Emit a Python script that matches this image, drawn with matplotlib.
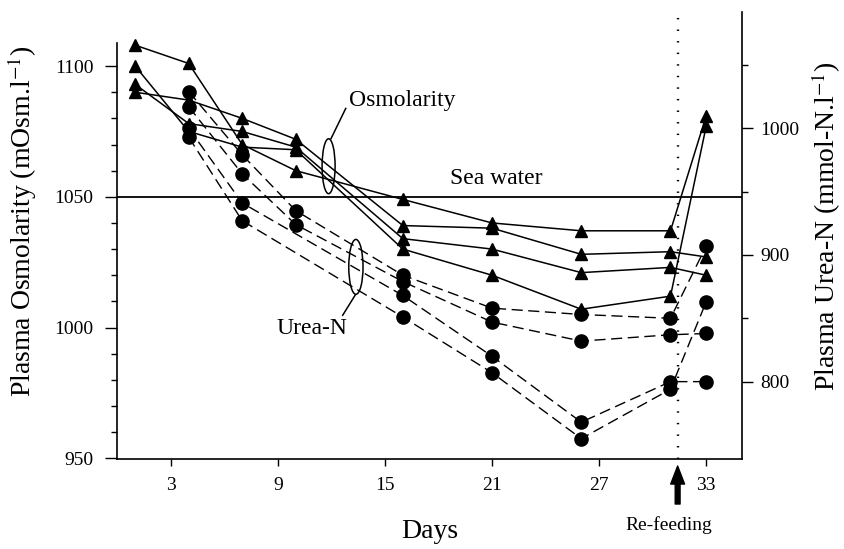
import numpy as np
import matplotlib
matplotlib.use("Agg")
import matplotlib.pyplot as plt
from matplotlib.patches import Ellipse
from matplotlib.ticker import MultipleLocator, FixedLocator

plt.rcParams['font.family'] = ['Liberation Serif', 'DejaVu Serif']
plt.rcParams['mathtext.fontset'] = 'stix'

# Osmolarity (left axis, triangles, solid lines)
osm_days = [1, 4, 7, 10, 16, 21, 26, 31, 33]
osm_a = [1108, 1101, 1070, 1060, 1049, 1040, 1037, 1037, 1081]
osm_b = [1090, 1087, 1080, 1072, 1039, 1038, 1028, 1029, 1027]
osm_c = [1093, 1078, 1075, 1069, 1034, 1030, 1021, 1023, 1020]
osm_d = [1100, 1075, 1069, 1068, 1030, 1020, 1007, 1012, 1077]

# Urea-N (right axis, circles, dashed lines)
urea_days_ab = [4, 7, 10, 16, 21, 26, 31, 33]
urea_a = [1029, 979, 935, 884, 858, 853, 850, 907]
urea_b = [1017, 964, 924, 879, 847, 832, 837, 838]
urea_days_cd = [4, 7, 16, 21, 26, 31, 33]
urea_c = [1000, 941, 868, 820, 768, 800, 800]
urea_d = [993, 927, 851, 807, 755, 794, 863]

sea_water = 1050
refeed_day = 31.4
x_ticks = [3, 9, 15, 21, 27, 33]

fig = plt.figure(figsize=(8.44, 5.49), dpi=100)
ax = fig.add_axes([0.139, 0.1634, 0.740, 0.8148])
ax2 = ax.twinx()

for s in [osm_a, osm_b, osm_c, osm_d]:
    ax.plot(osm_days, s, color='k', lw=1.1, marker='^', markersize=9,
            clip_on=False, zorder=3)

for d, s in [(urea_days_ab, urea_a), (urea_days_ab, urea_b),
             (urea_days_cd, urea_c), (urea_days_cd, urea_d)]:
    ax2.plot(d, s, color='k', lw=1.0, marker='o', markersize=9.5,
             dashes=(8, 4), clip_on=False, zorder=3)

# sea water reference and re-feeding marker
ax.axhline(sea_water, color='k', lw=1.3)
ax.axvline(refeed_day, color='k', lw=1.7, dashes=(0.6, 4.3))

ax.set_xlim(0, 35)
ax.set_ylim(949.6, 1120.7)
ax2.set_ylim(738.7, 1091.8)

ax.set_xticks(x_ticks)
ax.yaxis.set_major_locator(FixedLocator([950, 1000, 1050, 1100]))
ax.yaxis.set_minor_locator(FixedLocator(list(range(960, 1110, 10))))
ax2.yaxis.set_major_locator(FixedLocator([800, 900, 1000]))
ax2.yaxis.set_minor_locator(FixedLocator([850, 950, 1050]))

for a in (ax, ax2):
    a.spines['top'].set_visible(False)
    for sp in a.spines.values():
        sp.set_linewidth(1.2)
ax.spines['right'].set_visible(False)
ax.spines['left'].set_bounds(949.6, 1109)
ax2.spines['left'].set_visible(False)
ax2.spines['bottom'].set_visible(False)

ax.tick_params(axis='x', direction='out', length=5, width=1, labelsize=14, pad=8)
ax.tick_params(axis='y', which='major', direction='out', length=9, width=1, labelsize=14, pad=8)
ax.tick_params(axis='y', which='minor', direction='out', length=4, width=1)
ax2.tick_params(axis='y', which='major', direction='out', length=8, width=1, labelsize=14, pad=5)
ax2.tick_params(axis='y', which='minor', direction='out', length=4, width=1)

# annotations
ax.text(13.0, 1087, 'Osmolarity', fontsize=17, ha='left', va='center')
ax.add_patch(Ellipse((11.84, 1061.7), 0.73, 21, fill=False, lw=1.1, color='k'))
ax.plot([12.8, 11.98], [1083.8, 1072.3], color='k', lw=1.1)

ax.text(10.9, 999.7, 'Urea-N', fontsize=17, ha='center', va='center')
ax.add_patch(Ellipse((13.37, 1023.2), 0.8, 21, fill=False, lw=1.1, color='k'))
ax.plot([13.33, 12.63], [1012.4, 1004.7], color='k', lw=1.1)

ax.text(21.24, 1057, 'Sea water', fontsize=17, ha='center', va='center')

xt = ax.get_xaxis_transform()
ax.annotate('', xy=(refeed_day, -0.015), xytext=(refeed_day, -0.1),
            xycoords=xt, textcoords=xt,
            arrowprops=dict(width=3.5, headwidth=10, headlength=13, color='k'))
ax.text(30.93, -0.148, 'Re-feeding', transform=xt, fontsize=14,
        ha='center', va='center')

fig.text(22 / 844, 1 - 221 / 549, r'Plasma Osmolarity (mOsm.l$^{-1}$)',
         rotation=90, ha='center', va='center', fontsize=20)
fig.text(826 / 844, 1 - 226 / 549, r'Plasma Urea-N (mmol-N.l$^{-1}$)',
         rotation=90, ha='center', va='center', fontsize=20)
fig.text(430 / 844, 1 - 532 / 549, 'Days', fontsize=20, ha='center', va='center')

fig.savefig('out.png', dpi=100)
